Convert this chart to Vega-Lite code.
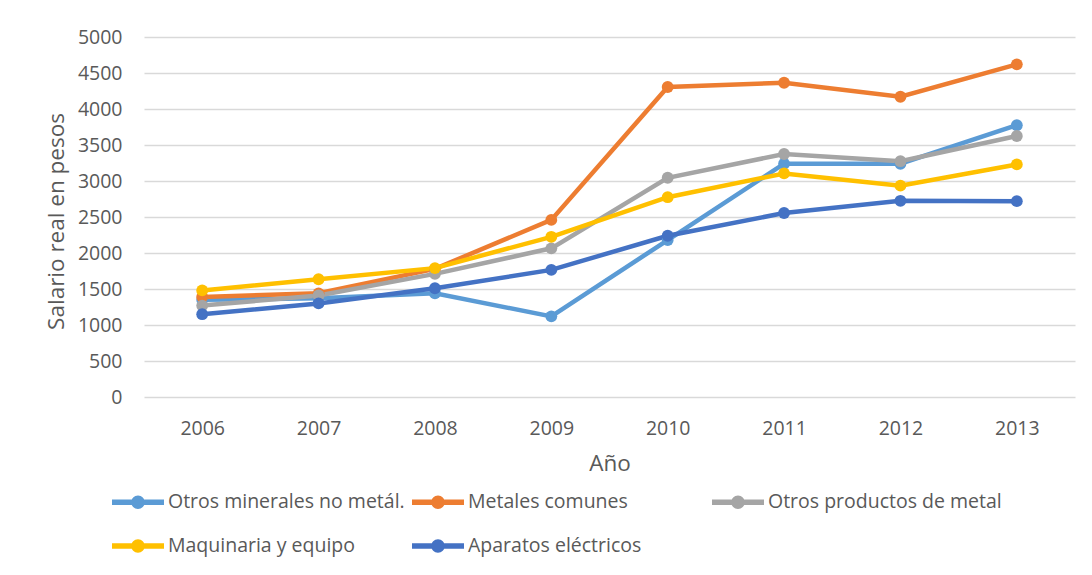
{
  "$schema": "https://vega.github.io/schema/vega-lite/v6.json",
  "width": 931,
  "height": 360,
  "autosize": {"type": "none"},
  "padding": {"left": 144, "top": 37, "right": 17, "bottom": 178},
  "background": "white",
  "config": {
    "view": {"stroke": null},
    "font": "Open Sans",
    "axis": {
      "labelColor": "#595959",
      "titleColor": "#595959",
      "labelFontSize": 19.5,
      "titleFontSize": 22.5,
      "titleFontWeight": "normal",
      "domain": false,
      "ticks": false
    },
    "legend": {
      "labelColor": "#595959",
      "labelFontSize": 19.5
    }
  },
  "data": {
    "values": [
      {"sector": "Otros minerales no metál.", "anio": "2006", "salario": 1350},
      {"sector": "Otros minerales no metál.", "anio": "2007", "salario": 1370},
      {"sector": "Otros minerales no metál.", "anio": "2008", "salario": 1440},
      {"sector": "Otros minerales no metál.", "anio": "2009", "salario": 1120},
      {"sector": "Otros minerales no metál.", "anio": "2010", "salario": 2180},
      {"sector": "Otros minerales no metál.", "anio": "2011", "salario": 3240},
      {"sector": "Otros minerales no metál.", "anio": "2012", "salario": 3240},
      {"sector": "Otros minerales no metál.", "anio": "2013", "salario": 3775},
      {"sector": "Metales comunes", "anio": "2006", "salario": 1390},
      {"sector": "Metales comunes", "anio": "2007", "salario": 1440},
      {"sector": "Metales comunes", "anio": "2008", "salario": 1780},
      {"sector": "Metales comunes", "anio": "2009", "salario": 2460},
      {"sector": "Metales comunes", "anio": "2010", "salario": 4305},
      {"sector": "Metales comunes", "anio": "2011", "salario": 4365},
      {"sector": "Metales comunes", "anio": "2012", "salario": 4170},
      {"sector": "Metales comunes", "anio": "2013", "salario": 4620},
      {"sector": "Otros productos de metal", "anio": "2006", "salario": 1270},
      {"sector": "Otros productos de metal", "anio": "2007", "salario": 1410},
      {"sector": "Otros productos de metal", "anio": "2008", "salario": 1710},
      {"sector": "Otros productos de metal", "anio": "2009", "salario": 2065},
      {"sector": "Otros productos de metal", "anio": "2010", "salario": 3045},
      {"sector": "Otros productos de metal", "anio": "2011", "salario": 3375},
      {"sector": "Otros productos de metal", "anio": "2012", "salario": 3275},
      {"sector": "Otros productos de metal", "anio": "2013", "salario": 3625},
      {"sector": "Maquinaria y equipo", "anio": "2006", "salario": 1480},
      {"sector": "Maquinaria y equipo", "anio": "2007", "salario": 1635},
      {"sector": "Maquinaria y equipo", "anio": "2008", "salario": 1790},
      {"sector": "Maquinaria y equipo", "anio": "2009", "salario": 2225},
      {"sector": "Maquinaria y equipo", "anio": "2010", "salario": 2775},
      {"sector": "Maquinaria y equipo", "anio": "2011", "salario": 3105},
      {"sector": "Maquinaria y equipo", "anio": "2012", "salario": 2935},
      {"sector": "Maquinaria y equipo", "anio": "2013", "salario": 3230},
      {"sector": "Aparatos eléctricos", "anio": "2006", "salario": 1150},
      {"sector": "Aparatos eléctricos", "anio": "2007", "salario": 1300},
      {"sector": "Aparatos eléctricos", "anio": "2008", "salario": 1510},
      {"sector": "Aparatos eléctricos", "anio": "2009", "salario": 1765},
      {"sector": "Aparatos eléctricos", "anio": "2010", "salario": 2240},
      {"sector": "Aparatos eléctricos", "anio": "2011", "salario": 2555},
      {"sector": "Aparatos eléctricos", "anio": "2012", "salario": 2725},
      {"sector": "Aparatos eléctricos", "anio": "2013", "salario": 2720}
    ]
  },
  "mark": {
    "type": "line",
    "strokeWidth": 4.5,
    "point": {"filled": true, "size": 140}
  },
  "encoding": {
    "x": {
      "field": "anio",
      "type": "ordinal",
      "scale": {"type": "point", "padding": 0.5},
      "axis": {
        "title": "Año",
        "labelAngle": 0,
        "labelPadding": 22,
        "grid": false,
        "titleY": 66,
        "titleBaseline": "middle"
      }
    },
    "y": {
      "field": "salario",
      "type": "quantitative",
      "scale": {"domain": [0, 5000]},
      "axis": {
        "title": "Salario real en pesos",
        "values": [0, 500, 1000, 1500, 2000, 2500, 3000, 3500, 4000, 4500, 5000],
        "format": "d",
        "grid": true,
        "gridColor": "#d9d9d9",
        "gridWidth": 1.3,
        "labelPadding": 22,
        "titleX": -88,
        "titleY": 184,
        "titleAngle": -90,
        "titleAlign": "center",
        "titleBaseline": "middle"
      }
    },
    "color": {
      "field": "sector",
      "type": "nominal",
      "sort": ["Otros minerales no metál.", "Metales comunes", "Otros productos de metal", "Maquinaria y equipo", "Aparatos eléctricos"],
      "scale": {
        "domain": ["Otros minerales no metál.", "Metales comunes", "Otros productos de metal", "Maquinaria y equipo", "Aparatos eléctricos"],
        "range": ["#5B9BD5", "#ED7D31", "#A5A5A5", "#FFC000", "#4472C4"]
      },
      "legend": {
        "title": null,
        "orient": "none",
        "legendX": -32,
        "legendY": 439,
        "direction": "horizontal",
        "columns": 3,
        "gridAlign": "all",
        "columnPadding": 7,
        "rowPadding": 8,
        "padding": 0,
        "labelOffset": 4,
        "labelLimit": 0,
        "symbolSize": 2704,
        "symbolStrokeWidth": 0,
        "symbolType": "M-1,-0.11L1,-0.11L1,0.11L-1,0.11Z M-0.26,0A0.26,0.26,0,1,1,0.26,0A0.26,0.26,0,1,1,-0.26,0Z",
        "encode": {
          "symbols": {
            "update": {
              "fill": {"scale": "color", "field": "value"},
              "strokeWidth": {"value": 0},
              "opacity": {"value": 1}
            }
          }
        }
      }
    }
  }
}
